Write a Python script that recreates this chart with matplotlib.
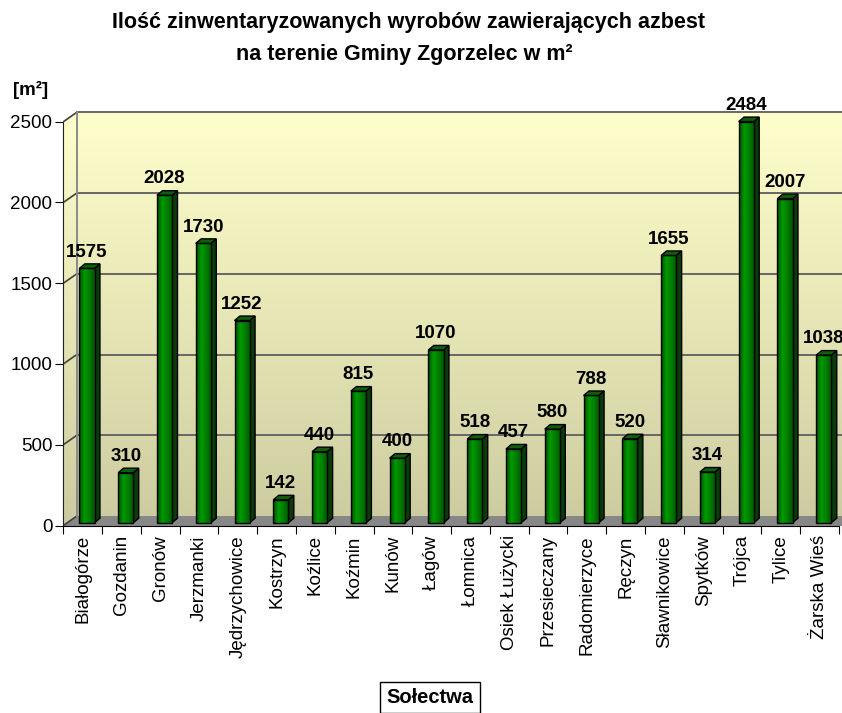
import numpy as np
import matplotlib
matplotlib.use("Agg")
import matplotlib.pyplot as plt
from matplotlib.patches import Polygon, Rectangle
from matplotlib.colors import LinearSegmentedColormap

plt.rcParams['font.family'] = ['Liberation Sans', 'DejaVu Sans']

# ---------------- data ----------------
categories = ["Białogórze", "Gozdanin", "Gronów", "Jerzmanki", "Jędrzychowice",
              "Kostrzyn", "Koźlice", "Koźmin", "Kunów", "Łagów", "Łomnica",
              "Osiek Łużycki", "Przesieczany", "Radomierzyce", "Ręczyn",
              "Sławnikowice", "Spytków", "Trójca", "Tylice", "Żarska Wieś"]
values = [1575, 310, 2028, 1730, 1252, 142, 440, 815, 400, 1070, 518,
          457, 580, 788, 520, 1655, 314, 2484, 2007, 1038]
y_ticks = [0, 500, 1000, 1500, 2000, 2500]
title_line1 = "Ilość zinwentaryzowanych wyrobów zawierających azbest"
title_line2 = "na terenie Gminy Zgorzelec w m²"
y_unit = "[m²]"
x_title = "Sołectwa"

# ---------------- layout ----------------
W, H = 842, 713
fig = plt.figure(figsize=(W / 100, H / 100), dpi=100)
sx = 38.78      # px per category
sy = 0.1615     # px per unit
x0px, y0px = 63.3, 525.5
xmax, ymax = 20.0, 2600
ax = fig.add_axes([x0px / W, (H - y0px) / H, (xmax + 0.5) * sx / W, ymax * sy / H])
ax.set_xlim(-0.5, xmax)
ax.set_ylim(0, ymax)
ax.set_facecolor('none')

n = len(categories)
dx, dy = 0.345, 58          # wall depth offset
right = xmax

# walls (side + back) with vertical gradient
wall_cmap = LinearSegmentedColormap.from_list('wall', ['#cbcb9f', '#e6e6b6', '#ffffcc'])
grad = np.linspace(0, 1, 256).reshape(-1, 1)
wall_poly = Polygon([(-0.5, 0), (-0.5 + dx, dy), (right, dy), (right, y_ticks[-1] + dy),
                     (-0.5 + dx, y_ticks[-1] + dy), (-0.5, y_ticks[-1])],
                    closed=True, facecolor='none', edgecolor='none')
ax.add_patch(wall_poly)
im = ax.imshow(grad, extent=(-0.5, right, 0, y_ticks[-1] + dy), origin='lower',
               cmap=wall_cmap, aspect='auto', zorder=1, interpolation='bilinear')
im.set_clip_path(wall_poly)

# floor
floor = Polygon([(-0.5, 0), (right, 0), (right, dy), (-0.5 + dx, dy)],
                closed=True, facecolor='#878787', edgecolor='none', zorder=2)
ax.add_patch(floor)

# gridlines on back wall + diagonals
gc = '#666666'
for v in y_ticks:
    ax.plot([-0.5, -0.5 + dx], [v, v + dy], color='#404040', lw=1.2, zorder=2.5,
            solid_capstyle='butt')
    if v > 0:
        ax.plot([-0.5 + dx, right], [v + dy, v + dy], color=gc, lw=1.4, zorder=2.5)
ax.plot([-0.5 + dx, -0.5 + dx], [dy, y_ticks[-1] + dy], color='#8a8a8a', lw=1.4, zorder=2.5)

# bars
face_cmap = LinearSegmentedColormap.from_list('face', ['#004a00', '#009a00', '#007c00', '#005400'])
hgrad = np.linspace(0, 1, 64).reshape(1, -1)
off = 0.11
hw = 0.195
base = 17
bdx, bdy = 0.14, 28
for i, v in enumerate(values):
    cx = i + off
    rect = Rectangle((cx - hw, base), 2 * hw, v, facecolor='none', edgecolor='black',
                     lw=1.0, zorder=3.2)
    ax.add_patch(rect)
    bim = ax.imshow(hgrad, extent=(cx - hw, cx + hw, base, base + v), cmap=face_cmap,
                    aspect='auto', zorder=3.1, interpolation='bilinear')
    bim.set_clip_path(rect)
    side = Polygon([(cx + hw, base), (cx + hw + bdx, base + bdy),
                    (cx + hw + bdx, base + v + bdy), (cx + hw, base + v)],
                   closed=True, facecolor='#0b3a0b', edgecolor='black', lw=1.0, zorder=3.0)
    ax.add_patch(side)
    top = Polygon([(cx - hw, base + v), (cx + hw, base + v),
                   (cx + hw + bdx, base + v + bdy), (cx - hw + bdx, base + v + bdy)],
                  closed=True, facecolor='#0d5e0d', edgecolor='black', lw=1.0, zorder=3.3)
    ax.add_patch(top)
    ax.annotate(str(v), (cx, base + v), xytext=(0, 8.5), textcoords='offset points',
                ha='center', va='baseline', fontsize=13.5, fontweight='bold', zorder=5,
                annotation_clip=False)

ax.set_xlim(-0.5, xmax)
ax.set_ylim(0, ymax)

# axes / ticks
for s in ['top', 'right']:
    ax.spines[s].set_visible(False)
ax.spines['left'].set_bounds(0, y_ticks[-1])
ax.spines['bottom'].set_bounds(-0.5, n - 0.5)
ax.spines['left'].set_color('#202020')
ax.spines['bottom'].set_color('black')
ax.spines['left'].set_zorder(4)
ax.spines['bottom'].set_zorder(4)
ax.set_yticks(y_ticks)
ax.set_yticklabels([str(t) for t in y_ticks], fontsize=13.5)
ax.tick_params(axis='y', length=5.8, pad=2, direction='out')
ax.set_xticks(np.arange(n + 1) - 0.5)
ax.set_xticklabels([])
ax.set_xticks(np.arange(n), minor=True)
ax.set_xticklabels(categories, minor=True, rotation=90, fontsize=13.5)
ax.tick_params(axis='x', which='major', length=5.8, direction='out')
ax.tick_params(axis='x', which='minor', length=0, pad=7)

# texts
fig.text(408 / W, 1 - 27.7 / H, title_line1, ha='center', va='baseline',
         fontsize=15.5, fontweight='bold')
fig.text(404 / W, 1 - 60 / H, title_line2, ha='center', va='baseline',
         fontsize=15.5, fontweight='bold')
fig.text(31 / W, 1 - 95 / H, y_unit, ha='center', va='baseline', fontsize=13.5,
         fontweight='bold')
fig.text(430 / W, 1 - 703 / H, x_title, ha='center', va='baseline', fontsize=14.5,
         fontweight='bold',
         bbox=dict(boxstyle='square,pad=0.3', facecolor='white', edgecolor='black', lw=1))

fig.savefig('out.png', dpi=100)
